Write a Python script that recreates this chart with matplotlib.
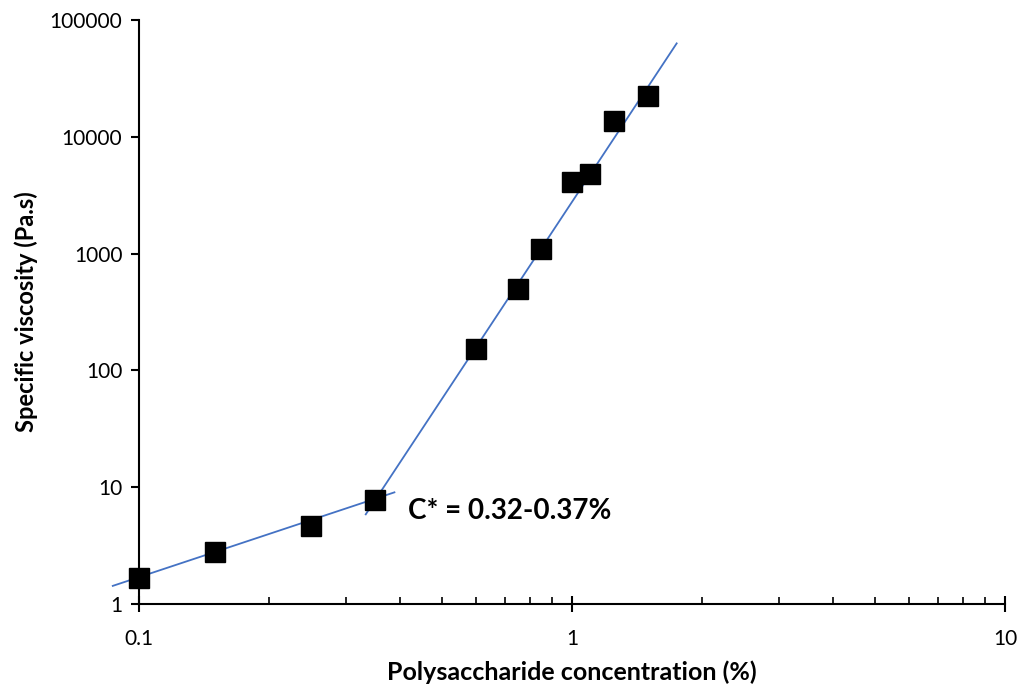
import matplotlib.pyplot as plt
import matplotlib.ticker as ticker

# measured data
conc = [0.1, 0.15, 0.25, 0.35, 0.6, 0.75, 0.85, 1.0, 1.1, 1.25, 1.5]
visc = [1.67, 2.79, 4.65, 7.77, 152, 497, 1096, 4100, 4800, 13650, 22350]

# power-law trend lines (end points)
fit_dilute_x = [0.087, 0.389]
fit_dilute_y = [1.43, 9.04]
fit_conc_x = [0.334, 1.745]
fit_conc_y = [5.86, 63100]

x_ticks = [0.1, 1, 10]
x_labels = ["0.1", "1", "10"]
y_ticks = [1, 10, 100, 1000, 10000, 100000]
y_labels = ["1", "10", "100", "1000", "10000", "100000"]

plt.rcParams['font.family'] = ['Lato', 'DejaVu Sans']

fig = plt.figure(figsize=(10.21, 6.86), dpi=100)
ax = fig.add_axes([0.1361, 0.1195, 0.8482, 0.8513])

ax.plot(fit_dilute_x, fit_dilute_y, color="#4472C4", linewidth=1.3, clip_on=False)
ax.plot(fit_conc_x, fit_conc_y, color="#4472C4", linewidth=1.3, clip_on=False)
ax.plot(conc, visc, linestyle="none", marker="s", markersize=15, color="black",
        clip_on=False, zorder=3)

ax.set_xscale("log")
ax.set_yscale("log")
ax.set_xlim(0.1, 10)
ax.set_ylim(1, 100000)

ax.set_xticks(x_ticks)
ax.set_xticklabels(x_labels)
ax.set_yticks(y_ticks)
ax.set_yticklabels(y_labels)
ax.xaxis.set_minor_locator(ticker.LogLocator(base=10, subs=range(2, 10)))
ax.xaxis.set_minor_formatter(ticker.NullFormatter())
ax.yaxis.set_minor_locator(ticker.NullLocator())

ax.tick_params(axis="x", which="major", direction="inout", length=12, width=1.5,
               labelsize=15, pad=12)
ax.tick_params(axis="x", which="minor", direction="in", length=5, width=1.2)
ax.tick_params(axis="y", which="major", direction="out", length=6, width=1.5,
               labelsize=15, pad=6)

for s in ["top", "right"]:
    ax.spines[s].set_visible(False)
for s in ["left", "bottom"]:
    ax.spines[s].set_linewidth(1.5)

ax.set_xlabel("Polysaccharide concentration (%)", fontsize=18, fontweight="bold", labelpad=8)
ax.set_ylabel("Specific viscosity (Pa.s)", fontsize=17, fontweight="bold", labelpad=8)

ax.text(0.418, 6.26, "C* = 0.32-0.37%", fontsize=20, fontweight="bold", va="center")

fig.savefig("out.png", dpi=100)
